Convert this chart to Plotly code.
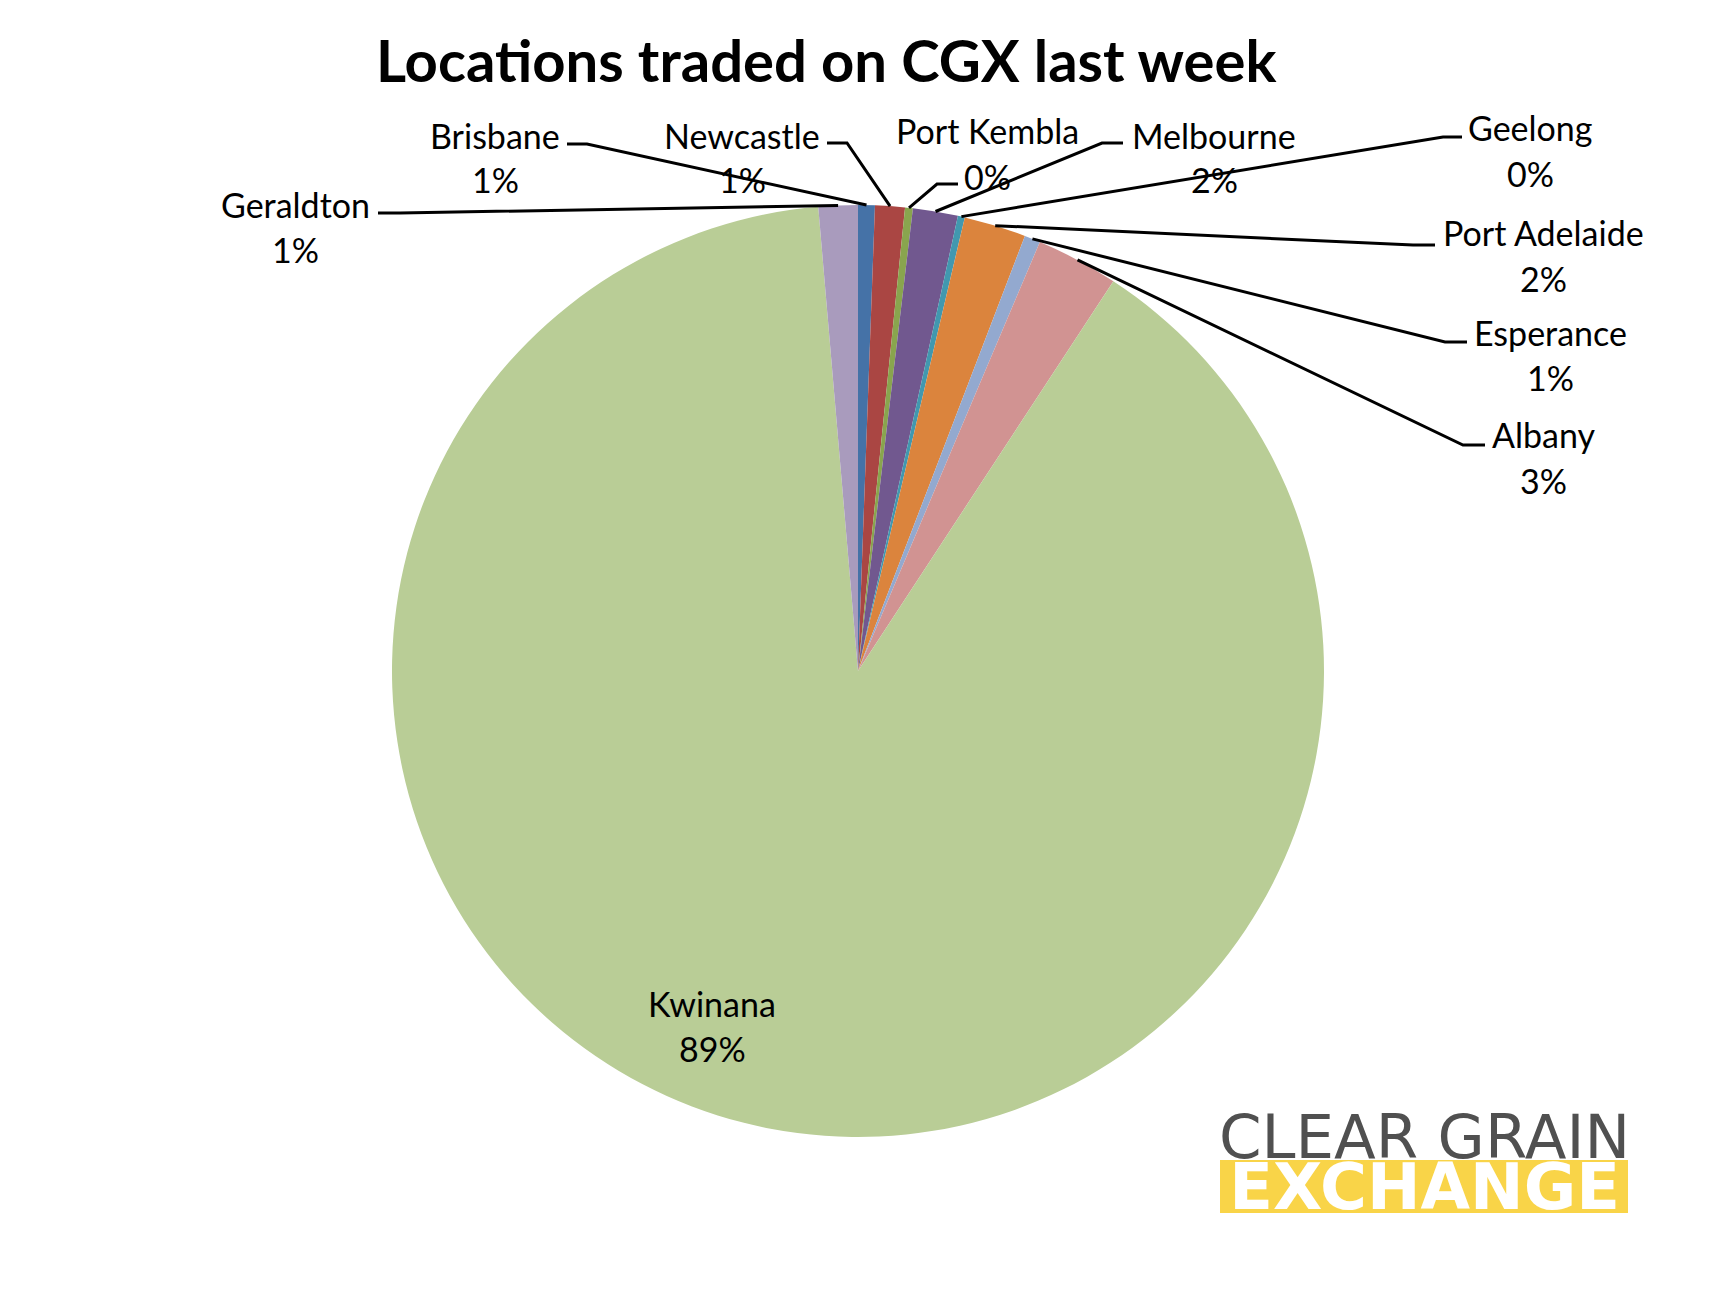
import math
import plotly.graph_objects as go

# ---------------- data ----------------
locations = ["Brisbane", "Newcastle", "Port Kembla", "Melbourne", "Geelong",
             "Port Adelaide", "Esperance", "Albany", "Kwinana", "Geraldton"]
shares = [0.58, 1.03, 0.27, 1.56, 0.24, 2.15, 0.55, 2.85, 89.40, 1.36]
colors = ["#4572A7", "#AA4643", "#89A54E", "#71588F", "#4198AF",
          "#DB843D", "#93A9CF", "#D19392", "#B9CD96", "#A99BBD"]
title_text = "Locations traded on CGX last week"

# ---------------- layout constants (pixels) ----------------
W, H = 1716, 1291
OFF = 8                            # page margin of the rendered html
CX, CY, R = 858, 671, 466          # pie centre and radius
LINE_GAP = 45                      # gap between name and percentage lines
FONT = "Lato, 'Open Sans', sans-serif"

# label centre (x, y of name line)
label_pos = {
    "Brisbane": (495, 135), "Newcastle": (742, 135), "Port Kembla": (987, 131),
    "Melbourne": (1214, 135), "Geelong": (1530, 128), "Port Adelaide": (1543, 233),
    "Esperance": (1550, 332), "Albany": (1543, 435), "Geraldton": (295, 205),
    "Kwinana": (712, 1003),
}
# leader line: (outer end, elbow); the inner end is computed on the pie rim
leader = {
    "Brisbane": ((567, 144), (587, 144)), "Newcastle": ((827, 143), (847, 143)),
    "Port Kembla": ((958, 184), (937, 184)), "Melbourne": ((1123, 143), (1102, 143)),
    "Geelong": ((1462, 137), (1443, 137)), "Port Adelaide": ((1435, 245), (1413, 245)),
    "Esperance": ((1467, 342), (1445, 342)), "Albany": ((1485, 445), (1463, 445)),
    "Geraldton": ((378, 213), (400, 213)),
}


def px(x):
    return (x - OFF) / W


def py(y):
    return 1 - (y - OFF) / H


total = sum(shares)

fig = go.Figure()
fig.add_trace(go.Pie(
    labels=locations, values=shares, sort=False, direction="clockwise", rotation=0,
    marker=dict(colors=colors, line=dict(width=0)),
    textinfo="none", hoverinfo="label+percent", showlegend=False,
    domain=dict(x=[px(CX - R), px(CX + R)], y=[py(CY + R), py(CY - R)]),
))

annotations = []
shapes = []
cum = 0.0
for name, v in zip(locations, shares):
    mid = (cum + v / 2) / total * 2 * math.pi
    cum += v
    pct = f"{round(v / total * 100)}%"
    lx, ly = label_pos[name]
    for txt, yy in ((name, ly), (pct, ly + LINE_GAP)):
        annotations.append(dict(
            x=px(lx), y=py(yy), xref="paper", yref="paper", text=txt,
            showarrow=False, xanchor="center", yanchor="middle",
            font=dict(family=FONT, size=34, color="black"),
        ))
    if name in leader:
        (ex, ey), (bx, by) = leader[name]
        rx = CX + R * math.sin(mid)
        ry = CY - R * math.cos(mid)
        path = f"M {px(ex)} {py(ey)} L {px(bx)} {py(by)} L {px(rx)} {py(ry)}"
        shapes.append(dict(type="path", path=path, xref="paper", yref="paper",
                           line=dict(color="black", width=3), layer="above"))

# title
annotations.append(dict(
    x=px(826), y=py(60), xref="paper", yref="paper", text=f"<b>{title_text}</b>",
    showarrow=False, xanchor="center", yanchor="middle",
    font=dict(family=FONT, size=58, color="black"),
))

# logo
shapes.append(dict(type="rect", xref="paper", yref="paper",
                   x0=px(1220), x1=px(1628), y0=py(1213), y1=py(1160),
                   fillcolor="#F9D448", line=dict(width=0), layer="above"))
annotations.append(dict(
    x=px(1424), y=py(1162), xref="paper", yref="paper",
    text=("<span style='color:#505050;font-size:61px'>CLEAR GRAIN</span><br>"
          "<span style='color:white;font-size:64px'><b>EXCHANGE</b></span>"),
    showarrow=False, xanchor="center", yanchor="middle",
    font=dict(family="'DejaVu Sans', sans-serif", size=39, color="#505050"),
))

fig.update_layout(
    width=W, height=H, margin=dict(l=0, r=0, t=0, b=0),
    paper_bgcolor="white", plot_bgcolor="white",
    annotations=annotations, shapes=shapes,
)

fig.write_html("out.html")
